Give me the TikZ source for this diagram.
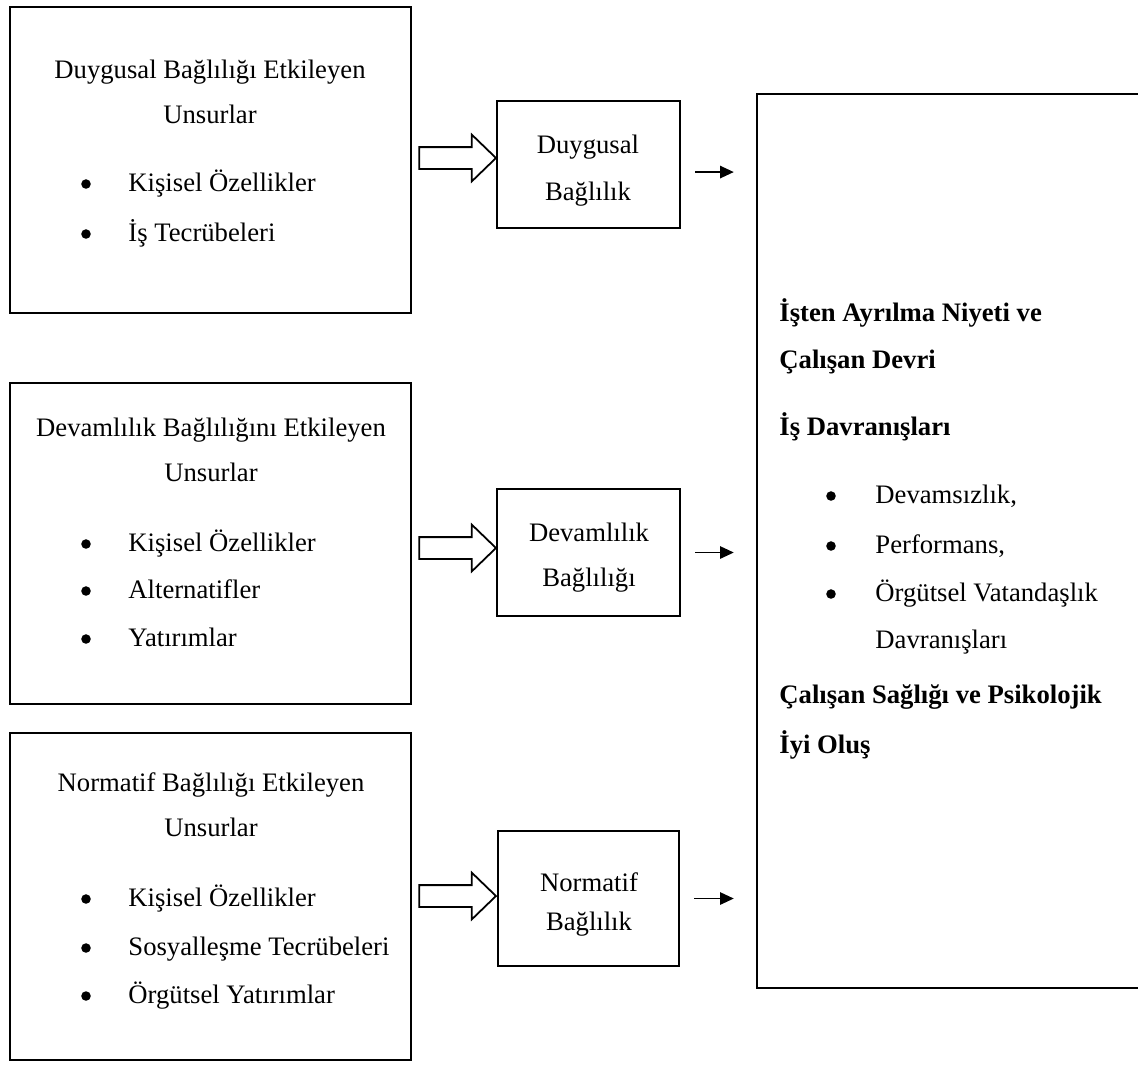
\documentclass[tikz,border=0pt]{standalone}
\usepackage{fontspec}
\setmainfont{Liberation Serif}
\usetikzlibrary{arrows.meta,shapes.arrows,fit}

\begin{document}
\begin{tikzpicture}[x=0.45pt,y=-0.45pt,font=\fontsize{12pt}{14pt}\selectfont,
    box/.style={draw, line width=1.1pt, inner sep=0pt},
    madde/.style={circle, fill, inner sep=0pt, minimum size=4.3pt},
    blockarrow/.style={draw, line width=0.8pt, single arrow, single arrow head extend=5.6pt,
      single arrow tip angle=88, inner xsep=0pt, inner ysep=4.5pt, minimum height=34.5pt},
    thinarrow/.style={-{Triangle[length=6.2pt,width=5.6pt]}, line width=0.7pt,
      shorten <=6.3pt, shorten >=9.9pt}]

  \useasboundingbox (0,0) rectangle (1138,1065);

  % kutular
  \node[box, fit={(10,7) (411,313)}]    (duyE) {};
  \node[box, fit={(10,383) (411,704)}]  (devE) {};
  \node[box, fit={(10,733) (411,1060)}] (norE) {};

  \node[box, fit={(497,101) (680,228)}] (duyB) {};
  \node[box, fit={(497,489) (680,616)}] (devB) {};
  \node[box, fit={(498,831) (679,966)}] (norB) {};

  \node[box, fit={(757,94) (1160,988)}] (sonuc) {};

  % bos oklar
  \node[blockarrow] (ok1) at (452,158) {};
  \node[blockarrow] (ok2) at (452,548) {};
  \node[blockarrow] (ok3) at (452,896) {};

  % ince oklar
  \draw[thinarrow] ([yshift=-3.4pt]duyB.east) -- ([yshift=-3.4pt]duyB.east -| sonuc.west);
  \draw[thinarrow] (devB.east) -- (devB.east -| sonuc.west);
  \draw[thinarrow] (norB.east) -- (norB.east -| sonuc.west);

  % maddeler
  \node[madde] (duyM1) at (86,184)  {};
  \node[madde] (duyM2) at (86,234)  {};
  \node[madde] (devM1) at (86,544)  {};
  \node[madde] (devM2) at (86,591)  {};
  \node[madde] (devM3) at (86,639)  {};
  \node[madde] (norM1) at (86,899)  {};
  \node[madde] (norM2) at (86,948)  {};
  \node[madde] (norM3) at (86,996)  {};
  \node[madde] (sonM1) at (831,496) {};
  \node[madde] (sonM2) at (831,546) {};
  \node[madde] (sonM3) at (831,594) {};

  % yazilar
  \begin{scope}[every node/.style={inner sep=0pt, anchor=base}]
    \node (duyT1) at (210,78)  {Duygusal Bağlılığı Etkileyen};
    \node (duyT2) at (210,123) {Unsurlar};

    \node (devT1) at (211,436) {Devamlılık Bağlılığını Etkileyen};
    \node (devT2) at (211,481) {Unsurlar};

    \node (norT1) at (211,791) {Normatif Bağlılığı Etkileyen};
    \node (norT2) at (211,836) {Unsurlar};

    \node (duyB1) at (588,153) {Duygusal};
    \node (duyB2) at (588,200) {Bağlılık};
    \node (devB1) at (589,541) {Devamlılık};
    \node (devB2) at (589,586) {Bağlılığı};
    \node (norB1) at (589,891) {Normatif};
    \node (norB2) at (589,930) {Bağlılık};
  \end{scope}

  \begin{scope}[every node/.style={inner sep=0pt, anchor=base west}]
    \node (duyL1) at (128,191)  {Kişisel Özellikler};
    \node (duyL2) at (128,241)  {İş Tecrübeleri};

    \node (devL1) at (128,551)  {Kişisel Özellikler};
    \node (devL2) at (128,598)  {Alternatifler};
    \node (devL3) at (128,646)  {Yatırımlar};

    \node (norL1) at (128,906)  {Kişisel Özellikler};
    \node (norL2) at (128,955)  {Sosyalleşme Tecrübeleri};
    \node (norL3) at (128,1003) {Örgütsel Yatırımlar};

    \node[font=\fontsize{12pt}{14pt}\selectfont\bfseries] (son1) at (779,321) {İşten Ayrılma Niyeti ve};
    \node[font=\fontsize{12pt}{14pt}\selectfont\bfseries] (son2) at (779,368) {Çalışan Devri};
    \node[font=\fontsize{12pt}{14pt}\selectfont\bfseries] (son3) at (779,435) {İş Davranışları};
    \node (sonL1) at (875,503) {Devamsızlık,};
    \node (sonL2) at (875,553) {Performans,};
    \node (sonL3) at (875,601) {Örgütsel Vatandaşlık};
    \node (sonL4) at (875,648) {Davranışları};
    \node[font=\fontsize{12pt}{14pt}\selectfont\bfseries] (son4) at (779,703) {Çalışan Sağlığı ve Psikolojik};
    \node[font=\fontsize{12pt}{14pt}\selectfont\bfseries] (son5) at (779,753) {İyi Oluş};
  \end{scope}

\end{tikzpicture}
\end{document}
